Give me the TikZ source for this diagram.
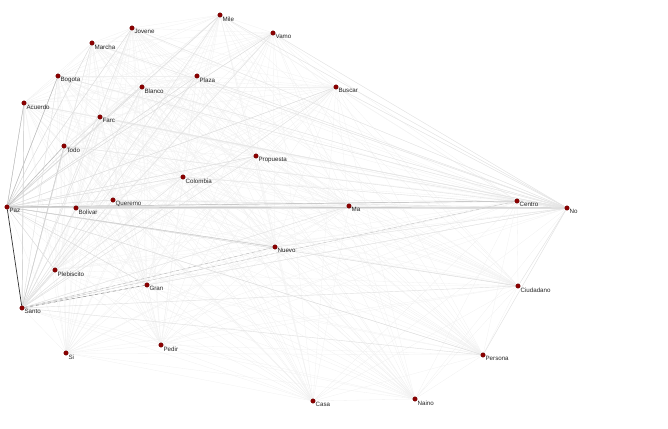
\documentclass[tikz,border=0pt]{standalone}
\usepackage{fontspec}
\setmainfont{Liberation Sans}
\usetikzlibrary{backgrounds}
\begin{document}
\begin{tikzpicture}[x=1pt,y=-1pt,
  dot/.style={circle,fill=red!55!black,draw=red!40!black,line width=0.2pt,inner sep=0pt,minimum size=4.6pt,
    label={[lbl]south east:#1}},
  lbl/.style={font=\fontsize{6.2}{7}\selectfont,text=black!85,inner sep=0.3pt,anchor=north west,xshift=0.4pt,yshift=0.6pt},
  faint/.style={draw=black!6,line width=0.3pt},
  hub/.style={draw=black!14,line width=0.4pt},
  mid/.style={draw=black!26,line width=0.45pt},
  strong/.style={draw=black!80,line width=0.7pt}]
\useasboundingbox (0,0) rectangle (668,428);
\node[dot=Mile] (Mile) at (220,15) {};
\node[dot=Vamo] (Vamo) at (273,33) {};
\node[dot=Jovene] (Jovene) at (132,28) {};
\node[dot=Marcha] (Marcha) at (92,43) {};
\node[dot=Bogota] (Bogota) at (58,76) {};
\node[dot=Acuerdo] (Acuerdo) at (24,103) {};
\node[dot=Blanco] (Blanco) at (142,87) {};
\node[dot=Plaza] (Plaza) at (197,76) {};
\node[dot=Buscar] (Buscar) at (336,87) {};
\node[dot=Farc] (Farc) at (100,117) {};
\node[dot=Todo] (Todo) at (64,146) {};
\node[dot=Propuesta] (Propuesta) at (256,156) {};
\node[dot=Colombia] (Colombia) at (183,177) {};
\node[dot=Paz] (Paz) at (7,207) {};
\node[dot=Bolivar] (Bolivar) at (76,208) {};
\node[dot=Queremo] (Queremo) at (113,200) {};
\node[dot=Ma] (Ma) at (349,206) {};
\node[dot=Centro] (Centro) at (517,201) {};
\node[dot=No] (No) at (567,208) {};
\node[dot=Nuevo] (Nuevo) at (275,247) {};
\node[dot=Plebiscito] (Plebiscito) at (55,270) {};
\node[dot=Gran] (Gran) at (147,285) {};
\node[dot=Santo] (Santo) at (22,308) {};
\node[dot=Ciudadano] (Ciudadano) at (518,286) {};
\node[dot=Si] (Si) at (66,353) {};
\node[dot=Pedir] (Pedir) at (161,345) {};
\node[dot=Persona] (Persona) at (483,355) {};
\node[dot=Casa] (Casa) at (313,401) {};
\node[dot=Naino] (Naino) at (415,399) {};
\begin{pgfonlayer}{background}
\foreach \a [count=\i] in {Mile,Vamo,Jovene,Marcha,Bogota,Acuerdo,Blanco,Plaza,Buscar,Farc,Todo,Propuesta,Colombia,Paz,Bolivar,Queremo,Ma,Centro,No,Nuevo,Plebiscito,Gran,Santo,Ciudadano,Si,Pedir,Persona,Casa,Naino}{
  \foreach \b [count=\j] in {Mile,Vamo,Jovene,Marcha,Bogota,Acuerdo,Blanco,Plaza,Buscar,Farc,Todo,Propuesta,Colombia,Paz,Bolivar,Queremo,Ma,Centro,No,Nuevo,Plebiscito,Gran,Santo,Ciudadano,Si,Pedir,Persona,Casa,Naino}{
    \ifnum\j>\i \draw[faint] (\a) -- (\b); \fi
  }}
\foreach \b in {Mile,Vamo,Jovene,Marcha,Bogota,Acuerdo,Blanco,Plaza,Buscar,Farc,Todo,Propuesta,Colombia,Bolivar,Queremo,Ma,Centro,No,Nuevo,Plebiscito,Gran,Ciudadano,Persona}
  \draw[hub] (Paz) -- (\b);
\foreach \b in {Mile,Vamo,Jovene,Marcha,Bogota,Acuerdo,Blanco,Plaza,Buscar,Farc,Todo,Propuesta,Colombia,Bolivar,Queremo,Ma,Centro,No,Nuevo,Plebiscito,Gran,Ciudadano,Persona}
  \draw[hub,draw=black!11] (Santo) -- (\b);
\foreach \b in {Mile,Vamo,Jovene,Marcha,Bogota,Acuerdo,Blanco,Plaza,Buscar,Farc,Todo,Propuesta,Colombia,Bolivar,Queremo,Ma,Centro,Nuevo,Ciudadano,Persona}
  \draw[hub,draw=black!10] (No) -- (\b);
\draw[mid] (Paz) -- (Acuerdo);
\draw[mid] (Paz) -- (Bogota);
\draw[mid] (Paz) -- (Todo);
\draw[mid] (Paz) -- (Centro);
\draw[mid] (Paz) -- (No);
\draw[mid,draw=black!20] (Paz) -- (Nuevo);
\draw[mid,draw=black!20] (Santo) -- (Todo);
\draw[mid,draw=black!20] (Santo) -- (Acuerdo);
\draw[mid,dashed,draw=black!45] (Santo) -- (Gran);
\draw[mid,dashed,draw=black!25] (Santo) -- (Nuevo);
\draw[mid,dashed,draw=black!20] (Santo) -- (Centro);
\draw[strong] (Paz) -- (Santo);
\end{pgfonlayer}
\end{tikzpicture}
\end{document}
